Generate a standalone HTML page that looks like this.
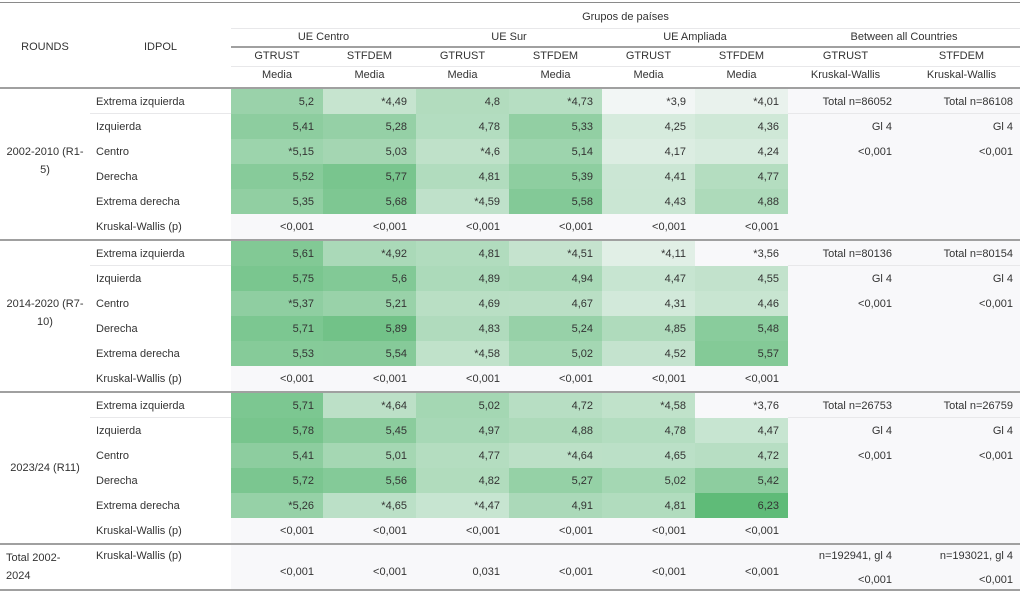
<!DOCTYPE html>
<html><head><meta charset="utf-8">
<style>
body{margin:0;width:1024px;height:594px;background:#fff;font-family:"Liberation Sans",sans-serif;font-size:11px;color:#333;position:relative;overflow:hidden}
.a{position:absolute;white-space:nowrap;line-height:14px}
.l{position:absolute}
</style></head><body>
<div id="root"></div>
<script>
var R=document.getElementById('root'),H='';
function box(x,y,w,h,bg){H+='<div class="l" style="left:'+x+'px;top:'+y+'px;width:'+w+'px;height:'+h+'px;background:'+bg+'"></div>';}
function txt(x,y,w,t,al){H+='<div class="a" style="left:'+x+'px;top:'+(y-7)+'px;width:'+w+'px;text-align:'+(al||'center')+'">'+t+'</div>';}
function col(v){var t=(v-3.85)/(6.23-3.85);if(t<0)t=0;t=Math.pow(t,0.85);
 var a=[248,248,250],b=[95,187,120];return 'rgb('+a.map(function(c,i){return Math.round(c+(b[i]-c)*t)}).join(',')+')';}
var X=[0,90,231,323,416,509,602,695,788,903,1020];
box(0,2,1020,1,'#8a8a8a');
txt(231,17,789,'Grupos de países');
box(231,28,789,1,'#e8e8ea');
['UE Centro','UE Sur','UE Ampliada','Between all Countries'].forEach(function(s,i){var x0=X[2+2*i],x1=X[4+2*i];txt(x0,37,x1-x0,s);});
box(231,46,789,2,'#a0a0a0');
var g=['GTRUST','STFDEM'];
for(var i=0;i<8;i++){txt(X[2+i],56,X[3+i]-X[2+i],g[i%2]);txt(X[2+i],75,X[3+i]-X[2+i],i<6?'Media':'Kruskal-Wallis');}
box(231,66,789,1,'#e8e8ea');
txt(0,47,90,'ROUNDS');txt(90,47,141,'IDPOL');
box(0,87,1020,2,'#a0a0a0');
var lab=['Extrema izquierda','Izquierda','Centro','Derecha','Extrema derecha','Kruskal-Wallis (p)'];
var S=[
 {y:89,r:['2002-2010 (R1-','5)'],d:[['5,2','*4,49','4,8','*4,73','*3,9','*4,01'],['5,41','5,28','4,78','5,33','4,25','4,36'],['*5,15','5,03','*4,6','5,14','4,17','4,24'],['5,52','5,77','4,81','5,39','4,41','4,77'],['5,35','5,68','*4,59','5,58','4,43','4,88']],n:['Total n=86052','Total n=86108']},
 {y:241,r:['2014-2020 (R7-','10)'],d:[['5,61','*4,92','4,81','*4,51','*4,11','*3,56'],['5,75','5,6','4,89','4,94','4,47','4,55'],['*5,37','5,21','4,69','4,67','4,31','4,46'],['5,71','5,89','4,83','5,24','4,85','5,48'],['5,53','5,54','*4,58','5,02','4,52','5,57']],n:['Total n=80136','Total n=80154']},
 {y:393,r:['2023/24 (R11)'],d:[['5,71','*4,64','5,02','4,72','*4,58','*3,76'],['5,78','5,45','4,97','4,88','4,78','4,47'],['5,41','5,01','4,77','*4,64','4,65','4,72'],['5,72','5,56','4,82','5,27','5,02','5,42'],['*5,26','*4,65','*4,47','4,91','4,81','6,23']],n:['Total n=26753','Total n=26759']}
];
S.forEach(function(s){
 box(788,s.y,232,150,'#f8f8fa');
 box(231,s.y+125,557,25,'#f8f8fa');
 for(var r=0;r<5;r++)for(var c=0;c<6;c++){var v=parseFloat(s.d[r][c].replace('*','').replace(',','.'));box(X[2+c],s.y+r*25,X[3+c]-X[2+c],25,col(v));}
 box(90,s.y+24,141,1,'#e8e8ea');box(788,s.y+24,232,1,'#e8e8ea');
 for(var r=0;r<6;r++){var cy=s.y+r*25+13;txt(96,cy,135,lab[r],'left');
  for(var c=0;c<6;c++)txt(X[2+c],cy,X[3+c]-X[2+c]-9,r<5?s.d[r][c]:'&lt;0,001','right');}
 var b=[[s.n[0],s.n[1]],['Gl 4','Gl 4'],['&lt;0,001','&lt;0,001']];
 for(var r=0;r<3;r++){var cy=s.y+r*25+13;txt(788,cy,104,b[r][0],'right');txt(903,cy,110,b[r][1],'right');}
 if(s.r.length==2){txt(0,s.y+63,90,s.r[0]);txt(0,s.y+81,90,s.r[1]);}else txt(0,s.y+75,90,s.r[0]);
 box(0,s.y+150,1020,2,'#a0a0a0');
});
box(231,545,789,44,'#f8f8fa');
txt(6,558,84,'Total 2002-','left');txt(6,576,84,'2024','left');
txt(96,556,135,'Kruskal-Wallis (p)','left');
['&lt;0,001','&lt;0,001','0,031','&lt;0,001','&lt;0,001','&lt;0,001'].forEach(function(t,c){txt(X[2+c],572,X[3+c]-X[2+c]-9,t,'right');});
txt(788,556,104,'n=192941, gl 4','right');txt(903,556,110,'n=193021, gl 4','right');
txt(788,580,104,'&lt;0,001','right');txt(903,580,110,'&lt;0,001','right');
box(0,589,1020,2,'#a0a0a0');
R.innerHTML=H;
</script>
</body></html>
